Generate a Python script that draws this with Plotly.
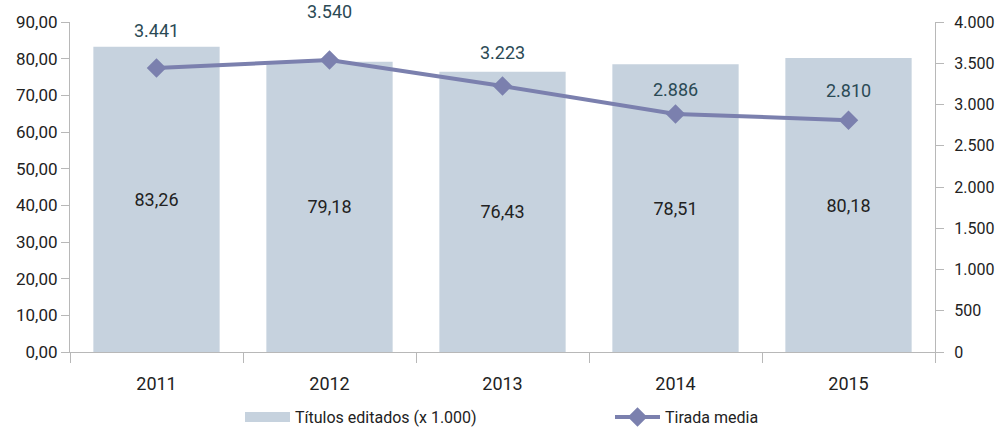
import plotly.graph_objects as go

years = ["2011", "2012", "2013", "2014", "2015"]
titulos = [83.26, 79.18, 76.43, 78.51, 80.18]
tirada = [3441, 3540, 3223, 2886, 2810]
label_shift = [38, 48, 34, 24, 30]

FONT = "Roboto, Arial"
AX = "#b8b8b8"
BAR = "#c6d2de"
LINE = "#7b80ae"

fig = go.Figure()
fig.add_trace(go.Bar(
    x=years, y=titulos, name="Títulos editados (x 1.000)",
    marker=dict(color=BAR, line=dict(width=0)),
    width=0.73, showlegend=False,
    texttemplate="%{y:.2f}", textposition="inside", insidetextanchor="middle",
    textfont=dict(size=18, color="#222222", family=FONT),
    yaxis="y",
))
# legend-only entry that shows the bar swatch as a wide block
fig.add_trace(go.Scatter(
    x=[None], y=[None], name="Títulos editados (x 1.000)", mode="lines",
    line=dict(color=BAR, width=15), yaxis="y",
))
fig.add_trace(go.Scatter(
    x=years, y=tirada, name="Tirada media", mode="lines+markers",
    line=dict(color=LINE, width=4),
    marker=dict(symbol="diamond", size=15, color=LINE),
    yaxis="y2",
))
for i, (v, s) in enumerate(zip(tirada, label_shift)):
    fig.add_annotation(x=i, y=v, xref="x", yref="y2",
                       text=f"{v:,}".replace(",", "."),
                       showarrow=False, yshift=s,
                       font=dict(size=18, color="#2b4a55", family=FONT))

fig.update_layout(
    width=997, height=430,
    margin=dict(l=70, r=62, t=22, b=78, autoexpand=False),
    plot_bgcolor="white", paper_bgcolor="white",
    separators=",.",
    font=dict(family=FONT, size=18, color="#222222"),
    showlegend=True,
    legend=dict(orientation="h", xref="container", yref="container",
                x=240 / 997, xanchor="left", y=(430 - 417) / 430, yanchor="middle",
                itemwidth=45, entrywidth=310, entrywidthmode="pixels",
                font=dict(size=16, color="#222222", family=FONT)),
    xaxis=dict(type="category", range=[-0.5, 4.5], autorange=False,
               showline=True, linecolor=AX, linewidth=1.2, automargin=False,
               ticks="outside", tickson="boundaries", ticklen=10, tickcolor=AX,
               ticklabelstandoff=15, showgrid=False),
    yaxis=dict(range=[0, 90], dtick=10, tickformat=".2f", showline=True,
               linecolor=AX, linewidth=1.2, ticks="outside", ticklen=8,
               tickcolor=AX, showgrid=False, zeroline=False, automargin=False,
               ticklabelstandoff=0, tickfont=dict(size=17)),
    yaxis2=dict(range=[0, 4000], dtick=500, tickformat=",d", overlaying="y",
                side="right", showline=True, linecolor=AX, linewidth=1.2,
                ticks="outside", ticklen=8, tickcolor=AX, showgrid=False,
                zeroline=False, automargin=False, ticklabelstandoff=7,
                tickfont=dict(size=16)),
)
fig.write_html("out.html", config={"displayModeBar": False},
               post_script="document.body.style.margin='0';")
